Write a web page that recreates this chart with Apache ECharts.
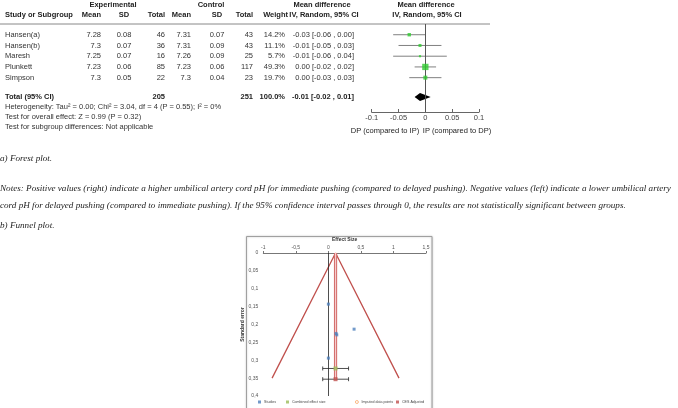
<!DOCTYPE html>
<html>
<head>
<meta charset="utf-8">
<script src="https://cdn.jsdelivr.net/npm/echarts@6/dist/echarts.min.js"></script>
<style>html,body{margin:0;padding:0;background:#fff}#chart{width:678px;height:408px}</style>
</head>
<body>
<div id="chart"></div>
<script>
// forest plot data
var studies = ['Hansen(a)', 'Hansen(b)', 'Maresh', 'Plunkett', 'Simpson'];
var expMean = [7.28, 7.3, 7.25, 7.23, 7.3];
var expSD = [0.08, 0.07, 0.07, 0.06, 0.05];
var expN = [46, 36, 16, 85, 22];
var ctlMean = [7.31, 7.31, 7.26, 7.23, 7.3];
var ctlSD = [0.07, 0.09, 0.09, 0.06, 0.04];
var ctlN = [43, 43, 25, 117, 23];
var weights = [14.2, 11.1, 5.7, 49.3, 19.7];
var md = [-0.03, -0.01, -0.01, 0.00, 0.00];
var ciLo = [-0.06, -0.05, -0.06, -0.02, -0.03];
var ciHi = [0.00, 0.03, 0.04, 0.02, 0.03];
var totalExp = 205, totalCtl = 251, totalWeight = 100.0;
var totalMd = [-0.01, -0.02, 0.01];

// funnel plot data
var funnelStudies = [[0, 0.143], [0.395, 0.213], [0.118, 0.225], [0.129, 0.229], [0, 0.294]];
var combined = [0.11, 0.323];
var cesAdjusted = [0.11, 0.353];
var errLo = -0.087, errHi = 0.31;
var funnelLines = [[-0.865, 0.35], [0.11, 0], [1.085, 0.35]];
var legendNames = ['Studies', 'Combined effect size', 'Imputed data points', 'CES Adjusted'];

var chart = echarts.init(document.getElementById('chart'));
var SANS = 'Liberation Sans, Arial, sans-serif';
var SERIF = 'Liberation Serif, Times New Roman, serif';
var totalRow = 6.8;
function f2(v) { return v.toFixed(2); }
function mdText(m, lo, hi) { return f2(m) + ' [' + f2(lo) + ' , ' + f2(hi) + ']'; }

var ciData = studies.map(function (s, i) { return [ciLo[i], ciHi[i], i + 1]; });
var sqData = studies.map(function (s, i) { return [md[i], i + 1, weights[i]]; });
var funnelFmt = function (v) { return String(+v.toFixed(2)).replace('.', ','); };
var legText = {fontSize: 3.6, color: '#444', fontFamily: SANS, padding: [0, 0, 0, -2]};
var legLeft = [258, 286, 355, 396];
var legends = legendNames.map(function (n, i) {
	var d = {name: n, icon: 'rect'};
	if (i === 2) d = {name: n, icon: 'circle', itemStyle: {color: '#fff', borderColor: '#f79646', borderWidth: 0.8}};
	return {left: legLeft[i], top: 400, padding: 0, itemWidth: 3, itemHeight: 3, textStyle: legText, data: [d]};
});

var option = {
	animation: false,
	grid: [
		{left: 371.7, right: 199, top: 24, height: 88},
		{left: 263.3, right: 252, top: 253, height: 143}
	],
	xAxis: [{
		gridIndex: 0, type: 'value', min: -0.1, max: 0.1, interval: 0.05,
		axisLine: {onZero: false, lineStyle: {color: '#666'}},
		axisTick: {inside: true, length: 3, lineStyle: {color: '#666'}},
		axisLabel: {fontSize: 7.5, color: '#444', fontFamily: SANS, margin: 2},
		splitLine: {show: false}
	}, {
		gridIndex: 1, type: 'value', position: 'top', min: -1, max: 1.5, interval: 0.5,
		name: 'Effect Size', nameLocation: 'middle', nameGap: 11,
		nameTextStyle: {fontSize: 5, fontWeight: 'bold', color: '#333', fontFamily: SANS},
		axisLine: {onZero: false, lineStyle: {color: '#777'}},
		axisTick: {length: 2, lineStyle: {color: '#777'}},
		axisLabel: {fontSize: 5, color: '#555', fontFamily: SANS, margin: 3, formatter: funnelFmt},
		splitLine: {show: false}
	}],
	yAxis: [{
		gridIndex: 0, type: 'value', inverse: true, min: 0, max: 8.2, show: false
	}, {
		gridIndex: 1, type: 'value', inverse: true, min: 0, max: 0.4, interval: 0.05,
		name: 'Standard error', nameLocation: 'middle', nameGap: 13,
		nameTextStyle: {fontSize: 5, fontWeight: 'bold', color: '#333', fontFamily: SANS},
		axisLine: {show: false}, axisTick: {show: false},
		axisLabel: {fontSize: 5, color: '#555', fontFamily: SANS, margin: 5, formatter: funnelFmt},
		splitLine: {show: false}
	}],
	legend: legends,
	series: [{
		type: 'custom', xAxisIndex: 0, yAxisIndex: 0, data: ciData,
		renderItem: function (params, api) {
			var a = api.coord([api.value(0), api.value(2)]);
			var b = api.coord([api.value(1), api.value(2)]);
			return {type: 'line', shape: {x1: a[0], y1: a[1], x2: b[0], y2: b[1]},
				style: {stroke: '#808080', lineWidth: 1}};
		},
		markLine: {
			silent: true, symbol: 'none', label: {show: false},
			lineStyle: {color: '#555', width: 1, type: 'solid'},
			data: [{xAxis: 0}]
		}
	}, {
		type: 'scatter', xAxisIndex: 0, yAxisIndex: 0, data: sqData, symbol: 'rect',
		symbolSize: function (v) { return Math.max(2, Math.sqrt(v[2]) * 0.9); },
		itemStyle: {color: '#2ecc2e'}, z: 5
	}, {
		type: 'custom', xAxisIndex: 0, yAxisIndex: 0,
		data: [[totalMd[0], totalMd[1], totalMd[2], totalRow]],
		renderItem: function (params, api) {
			var y = api.value(3);
			var l = api.coord([api.value(1), y]);
			var c = api.coord([api.value(0), y]);
			var r = api.coord([api.value(2), y]);
			return {type: 'polygon', shape: {points: [[l[0], l[1]], [c[0], c[1] - 4], [r[0], r[1]], [c[0], c[1] + 4]]},
				style: {fill: '#000'}};
		}
	},
	// funnel plot
	{
		type: 'line', xAxisIndex: 1, yAxisIndex: 1, data: funnelLines, symbol: 'none',
		lineStyle: {color: '#c0504d', width: 1.3},
		markLine: {
			silent: true, symbol: 'none', label: {show: false},
			lineStyle: {color: '#222', width: 0.8, type: 'solid'},
			data: [{xAxis: 0}]
		}
	}, {
		type: 'line', xAxisIndex: 1, yAxisIndex: 1, symbol: 'none',
		data: [[combined[0], 0], [cesAdjusted[0], cesAdjusted[1]]],
		lineStyle: {color: '#d26a68', width: 3.2}
	}, {
		type: 'line', xAxisIndex: 1, yAxisIndex: 1, symbol: 'none',
		data: [[combined[0], 0], [cesAdjusted[0], cesAdjusted[1]]],
		lineStyle: {color: '#f6cccc', width: 1.2}
	}, {
		type: 'custom', xAxisIndex: 1, yAxisIndex: 1,
		data: [[errLo, errHi, combined[1]], [errLo, errHi, cesAdjusted[1]]],
		renderItem: function (params, api) {
			var a = api.coord([api.value(0), api.value(2)]);
			var b = api.coord([api.value(1), api.value(2)]);
			var st = {stroke: '#222', lineWidth: 0.8};
			return {type: 'group', children: [
				{type: 'line', shape: {x1: a[0], y1: a[1], x2: b[0], y2: b[1]}, style: st},
				{type: 'line', shape: {x1: a[0], y1: a[1] - 2, x2: a[0], y2: a[1] + 2}, style: st},
				{type: 'line', shape: {x1: b[0], y1: b[1] - 2, x2: b[0], y2: b[1] + 2}, style: st}
			]};
		}
	}, {
		name: legendNames[0], type: 'scatter', xAxisIndex: 1, yAxisIndex: 1, data: funnelStudies,
		symbol: 'rect', symbolSize: 3, itemStyle: {color: '#4f81bd'}, z: 5
	}, {
		name: legendNames[1], type: 'scatter', xAxisIndex: 1, yAxisIndex: 1, data: [combined],
		symbol: 'rect', symbolSize: 4, itemStyle: {color: '#9bbb59'}, z: 6
	}, {
		name: legendNames[2], type: 'scatter', xAxisIndex: 1, yAxisIndex: 1, data: [],
		itemStyle: {color: '#f79646'}
	}, {
		name: legendNames[3], type: 'scatter', xAxisIndex: 1, yAxisIndex: 1, data: [cesAdjusted],
		symbol: 'rect', symbolSize: 4, itemStyle: {color: '#c0504d'}, z: 6
	}]
};
chart.setOption(option);

// table text, placed on the forest plot's rows
function rowY(r) { return chart.convertToPixel({gridIndex: 0}, [0, r])[1]; }
function txt(x, y, s, align, o) {
	o = o || {};
	return {type: 'text', silent: true, style: {
		text: s, x: x, y: y, align: align || 'left', verticalAlign: 'middle',
		textAlign: align || 'left', textVerticalAlign: 'middle',
		fontSize: o.size || 7.5, fontFamily: o.font || SANS, fontWeight: o.bold ? 'bold' : 'normal',
		fontStyle: o.italic ? 'italic' : 'normal', fill: o.color || '#333'
	}};
}
var g = [];
var H1 = 5, H2 = 15;
var B = {bold: true, color: '#222'};
g.push(txt(113, H1, 'Experimental', 'center', B));
g.push(txt(211, H1, 'Control', 'center', B));
g.push(txt(322, H1, 'Mean difference', 'center', B));
g.push(txt(426, H1, 'Mean difference', 'center', B));
g.push(txt(5, H2, 'Study or Subgroup', 'left', B));
g.push(txt(101, H2, 'Mean', 'right', B));
g.push(txt(124, H2, 'SD', 'center', B));
g.push(txt(165, H2, 'Total', 'right', B));
g.push(txt(191, H2, 'Mean', 'right', B));
g.push(txt(217, H2, 'SD', 'center', B));
g.push(txt(253, H2, 'Total', 'right', B));
g.push(txt(288, H2, 'Weight', 'right', B));
g.push(txt(324, H2, 'IV, Random, 95% CI', 'center', B));
g.push(txt(427, H2, 'IV, Random, 95% CI', 'center', B));
g.push({type: 'line', silent: true, shape: {x1: 0, y1: 24, x2: 490, y2: 24}, style: {stroke: '#888', lineWidth: 1}});
studies.forEach(function (s, i) {
	var y = rowY(i + 1);
	g.push(txt(5, y, s));
	g.push(txt(101, y, String(expMean[i]), 'right'));
	g.push(txt(124, y, f2(expSD[i]), 'center'));
	g.push(txt(165, y, String(expN[i]), 'right'));
	g.push(txt(191, y, String(ctlMean[i]), 'right'));
	g.push(txt(217, y, f2(ctlSD[i]), 'center'));
	g.push(txt(253, y, String(ctlN[i]), 'right'));
	g.push(txt(285, y, weights[i].toFixed(1) + '%', 'right'));
	g.push(txt(354, y, mdText(md[i], ciLo[i], ciHi[i]), 'right'));
});
var ty = rowY(totalRow);
g.push(txt(5, ty, 'Total (95% CI)', 'left', B));
g.push(txt(165, ty, String(totalExp), 'right', B));
g.push(txt(253, ty, String(totalCtl), 'right', B));
g.push(txt(285, ty, totalWeight.toFixed(1) + '%', 'right', B));
g.push(txt(354, ty, mdText(totalMd[0], totalMd[1], totalMd[2]), 'right', B));
g.push(txt(5, 107, 'Heterogeneity: Tau\u00b2 = 0.00; Chi\u00b2 = 3.04, df = 4 (P = 0.55); I\u00b2 = 0%'));
g.push(txt(5, 117, 'Test for overall effect: Z = 0.99 (P = 0.32)'));
g.push(txt(5, 127, 'Test for subgroup differences: Not applicable'));
g.push(txt(385, 131, 'DP (compared to IP)', 'center', {color: '#222'}));
g.push(txt(457, 131, 'IP (compared to DP)', 'center', {color: '#222'}));

// captions
var C = {font: SERIF, italic: true, size: 9.15, color: '#222'};
g.push(txt(0, 159, 'a) Forest plot.', 'left', C));
g.push(txt(0, 189, 'Notes: Positive values (right) indicate a higher umbilical artery cord pH for immediate pushing (compared to delayed pushing). Negative values (left) indicate a lower umbilical artery', 'left', C));
g.push(txt(0, 206, 'cord pH for delayed pushing (compared to immediate pushing). If the 95% confidence interval passes through 0, the results are not statistically significant between groups.', 'left', C));
g.push(txt(0, 226, 'b) Funnel plot.', 'left', C));

// funnel frame
g.push({type: 'rect', silent: true, z: -1, shape: {x: 246.5, y: 236.5, width: 185.5, height: 175},
	style: {fill: '#fff', stroke: '#a0a0a0', lineWidth: 1, shadowBlur: 2, shadowColor: 'rgba(0,0,0,0.25)'}});

chart.setOption({graphic: g});
</script>
</body>
</html>
